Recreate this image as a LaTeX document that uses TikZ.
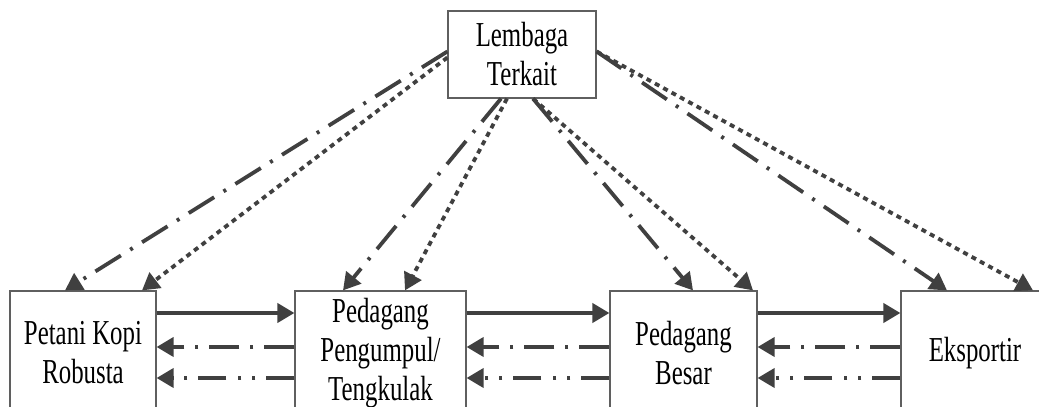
\documentclass[tikz,border=0pt]{standalone}
\usepackage{fontspec}
\setmainfont{Liberation Serif}[FakeStretch=0.71]
\usetikzlibrary{arrows.meta}
\definecolor{arrowgray}{HTML}{404040}
\definecolor{boxgray}{HTML}{5F5F5F}

\begin{document}
\begin{tikzpicture}[x=1pt, y=1pt,
  box/.style={draw=boxgray, line width=0.6pt, inner sep=0pt, align=center,
    font=\fontsize{17.5}{19.5}\selectfont},
  flow/.style={draw=arrowgray, line width=1.9pt, -{Triangle[length=8.5pt,width=9.5pt]}},
  dashdot/.style={dash pattern=on 15pt off 5.5pt on 1.5pt off 5.5pt},
  dashdotdot/.style={dash pattern=on 14pt off 5.5pt on 1.5pt off 5.5pt on 1.5pt off 6pt},
  dots/.style={dash pattern=on 2.5pt off 2.25pt}]
  \def\bh{62pt} % height of the lower boxes
  \def\up{20pt} % solid arrows
  \def\mid{3pt} % dash dot arrows
  \def\low{-12.5pt} % dash dot dot arrows

  \useasboundingbox (0,0) rectangle (519.5,203.5);

  % BOXES
  \node [box, minimum width=74pt, minimum height=43.5pt] (lembaga) at (261,176.25) {Lembaga\\Terkait};
  \node [box, minimum width=73pt, minimum height=\bh] (petani) at (41.5,27) {Petani Kopi\\Robusta};
  \node [box, minimum width=85.5pt, minimum height=\bh] (pengumpul) at (190.25,27) {Pedagang\\Pengumpul/\\Tengkulak};
  \node [box, minimum width=73.5pt, minimum height=\bh] (besar) at (341.75,27) {Pedagang\\Besar};
  \node [box, minimum width=74pt, minimum height=\bh] (eksportir) at (487.5,27) {Eksportir};

  % CHAIN
  \draw [flow] ([yshift=\up]petani.east) -- ([yshift=\up]pengumpul.west);
  \draw [flow] ([yshift=\up]pengumpul.east) -- ([yshift=\up]besar.west);
  \draw [flow] ([yshift=\up]besar.east) -- ([yshift=\up]eksportir.west);

  \draw [flow, dashdot] ([yshift=\mid]pengumpul.west) -- ([yshift=\mid]petani.east);
  \draw [flow, dashdot] ([yshift=\mid]besar.west) -- ([yshift=\mid]pengumpul.east);
  \draw [flow, dashdot] ([yshift=\mid]eksportir.west) -- ([yshift=\mid]besar.east);

  \draw [flow, dashdotdot] ([yshift=\low]pengumpul.west) -- ([yshift=\low]petani.east);
  \draw [flow, dashdotdot] ([yshift=\low]besar.west) -- ([yshift=\low]pengumpul.east);
  \draw [flow, dashdotdot] ([yshift=\low]eksportir.west) -- ([yshift=\low]besar.east);

  % LEMBAGA
  \draw [flow, dashdot] ([yshift=1.5pt]lembaga.west) -- ([xshift=-9pt]petani.north);
  \draw [flow, dots] ([yshift=-1.5pt]lembaga.west) -- ([xshift=29.5pt]petani.north);
  \draw [flow, dashdot] ([xshift=-10.5pt]lembaga.south) -- ([xshift=-18.75pt]pengumpul.north);
  \draw [flow, dots] ([xshift=-7.5pt]lembaga.south) -- ([xshift=12.25pt]pengumpul.north);
  \draw [flow, dashdot] ([xshift=5.5pt]lembaga.south) -- ([xshift=4.75pt]besar.north);
  \draw [flow, dots] ([xshift=5.5pt]lembaga.south) -- ([xshift=34.75pt]besar.north);
  \draw [flow, dashdot] ([yshift=1.5pt]lembaga.east) -- ([xshift=-14pt]eksportir.north);
  \draw [flow, dots] ([yshift=1.5pt]lembaga.east) -- ([xshift=29pt]eksportir.north);

\end{tikzpicture}
\end{document}
